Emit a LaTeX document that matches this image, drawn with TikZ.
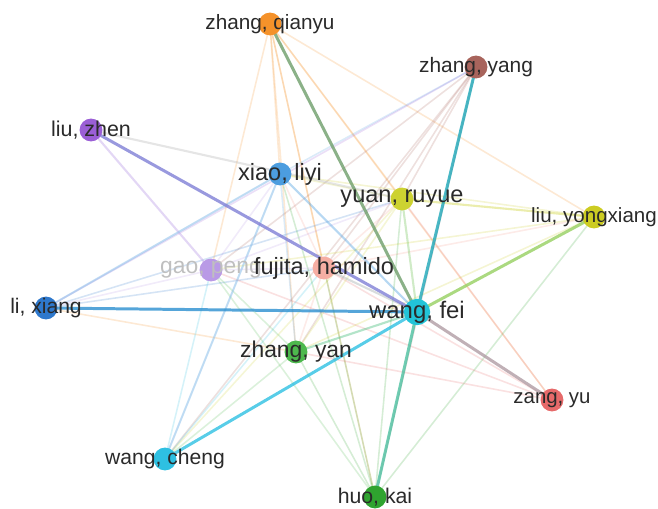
\documentclass[tikz,border=0pt]{standalone}
\usepackage{fontspec}
\setmainfont{Liberation Sans}
\pgfdeclarelayer{bg}
\pgfsetlayers{bg,main}
\definecolor{cZQ}{HTML}{F5922A}
\definecolor{cZYG}{HTML}{A8645C}
\definecolor{cLZ}{HTML}{9B5FD6}
\definecolor{cXL}{HTML}{4C9DDF}
\definecolor{cYR}{HTML}{CDD231}
\definecolor{cLY}{HTML}{CCCC22}
\definecolor{cGP}{HTML}{B99AE6}
\definecolor{cFH}{HTML}{F49A8C}
\definecolor{cLX}{HTML}{2E78CC}
\definecolor{cWF}{HTML}{22C4D8}
\definecolor{cZYN}{HTML}{4DB84D}
\definecolor{cZU}{HTML}{E66A6A}
\definecolor{cWC}{HTML}{2EC0E2}
\definecolor{cHK}{HTML}{2FA32F}
\definecolor{eZQ}{HTML}{6E9E6A}
\definecolor{eLZ}{HTML}{7F7FD6}
\definecolor{eLY}{HTML}{96D060}
\definecolor{eZU}{HTML}{B09CA4}
\definecolor{eHK}{HTML}{4CC0A0}
\definecolor{txt}{HTML}{2A2A2A}
\tikzset{
  dot/.style={circle, inner sep=0pt, minimum size=13pt},
  lab/.style={text=txt, inner sep=0pt},
  strong/.style={line width=1.7pt, opacity=.8},
  medium/.style={line width=1.2pt, opacity=.4},
  faint/.style={line width=0.9pt, opacity=.2},
}
\newcommand{\fs}[1]{\fontsize{#1}{#1}\selectfont}
\begin{document}
\begin{tikzpicture}[x=0.02cm,y=-0.02cm]
\useasboundingbox (0,0) rectangle (658,509);
% nodes
\node[dot, fill=cZQ] (zq) at (270,24) {};
\node[dot, fill=cZYG] (zyg) at (476,67) {};
\node[dot, fill=cLZ] (lz) at (91,130) {};
\node[dot, fill=cXL] (xl) at (280,174) {};
\node[dot, fill=cYR] (yr) at (402,199) {};
\node[dot, fill=cLY] (ly) at (594,217) {};
\node[dot, fill=cGP] (gp) at (211,270) {};
\node[dot, fill=cFH!80!white] (fh) at (324,268) {};
\node[dot, fill=cLX] (lx) at (46,308) {};
\node[dot, fill=cWF, minimum size=15pt] (wf) at (417,312) {};
\node[dot, fill=cZYN] (zyn) at (296,352) {};
\node[dot, fill=cZU] (zu) at (552,400) {};
\node[dot, fill=cWC] (wc) at (165,459) {};
\node[dot, fill=cHK] (hk) at (375,497) {};
% labels
\node[lab, font=\fs{11.8}] (zqL) at (zq) {zhang, qianyu};
\node[lab, font=\fs{11.9}] (zygL) at (zyg) {zhang, yang};
\node[lab, font=\fs{12.2}] (lzL) at (lz) {liu, zhen};
\node[lab, font=\fs{13.4}] (xlL) at (xl) {xiao, liyi};
\node[lab, font=\fs{13.4}] (yrL) at (yr) {yuan, ruyue};
\node[lab, font=\fs{11.7}] (lyL) at (ly) {liu, yongxiang};
\node[lab, font=\fs{13}, text=gray!50] (gpL) at (gp) {gao, peng};
\node[lab, font=\fs{13.4}] (fhL) at (fh) {fujita, hamido};
\node[lab, font=\fs{12}] (lxL) at (lx) {li, xiang};
\node[lab, font=\fs{13.6}] (wfL) at (wf) {wang, fei};
\node[lab, font=\fs{13}] (zynL) at (zyn) {zhang, yan};
\node[lab, font=\fs{11.6}] (zuL) at (zu) {zang, yu};
\node[lab, font=\fs{12}] (wcL) at (wc) {wang, cheng};
\node[lab, font=\fs{12.1}] (hkL) at (hk) {huo, kai};
% edges
\begin{pgfonlayer}{bg}
\foreach \a/\b/\c in {
  zq/zyn/cZQ, zq/gp/cZQ, zq/xl/cZQ, zq/fh/cZQ, zq/yr/cZQ, zq/hk/cZQ, zq/zu/cZQ, zq/ly/cZQ,
  zyg/gp/cZYG, zyg/xl/cXL, zyg/fh/cZYG, zyg/yr/cZYG, zyg/zyn/cZYG, zyg/hk/cZYG, zyg/lx/cLZ, zyg/wc/cZYG,
  lx/gp/cGP, lx/xl/cXL, lx/fh/cLX, lx/zyn/cZQ, lx/yr/cLX,
  wc/gp/cWC, wc/xl/cXL, wc/zyn/cZYN, wc/fh/cWC, wc/yr/cYR,
  hk/gp/cZYN, hk/zyn/cHK, hk/fh/cHK, hk/xl/cHK, hk/yr/cHK, hk/ly/cHK,
  zu/zyn/cZU, zu/fh/cZU, zu/gp/cZU, zu/yr/cZU,
  ly/fh/cFH, ly/xl/cLY, ly/zyn/cLY, ly/gp/cLY,
  gp/fh/cGP, gp/xl/cGP, gp/yr/cGP, gp/zyn/cZYN,
  fh/xl/cFH, fh/yr/cFH, fh/zyn/cFH, xl/yr/cYR, xl/zyn/cXL, yr/zyn/cYR}
  \draw[faint, draw=\c] (\a.center) -- (\b.center);
\draw[medium, draw=gray!50] (lz.center) -- (yr.center);
\draw[medium, draw=cYR] (yr.center) -- (ly.center);
\draw[medium, draw=cGP] (lz.center) -- (gp.center);
\draw[medium, draw=cXL!60] (xl.center) -- (wc.center);
\draw[medium, draw=cXL!60] (xl.center) -- (lx.center);
\draw[medium, draw=cXL] (xl.center) -- (wf.center);
\draw[medium, draw=cFH!60!cWF] (fh.center) -- (wf.center);
\draw[medium, draw=cZYN!70!cWF] (zyn.center) -- (wf.center);
\draw[medium, draw=cYR!60!cWF] (yr.center) -- (wf.center);
\draw[strong, draw=cLX!70!cWF] (lx.center) -- (wf.center);
\draw[strong, draw=cWC] (wc.center) -- (wf.center);
\draw[strong, draw=eHK] (hk.center) -- (wf.center);
\draw[strong, draw=cWF!85!black] (zyg.center) -- (wf.center);
\draw[strong, draw=eZQ] (zq.center) -- (wf.center);
\draw[strong, draw=eLZ] (lz.center) -- (wf.center);
\draw[strong, draw=eLY] (ly.center) -- (wf.center);
\draw[strong, draw=eZU] (zu.center) -- (wf.center);
\end{pgfonlayer}
\end{tikzpicture}
\end{document}
